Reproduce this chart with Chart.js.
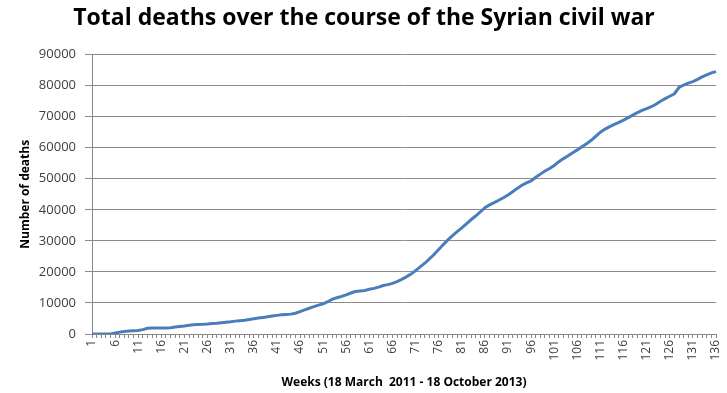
<!DOCTYPE html>
<html>
<head>
<meta charset="utf-8">
<script src="https://cdn.jsdelivr.net/npm/chart.js@4/dist/chart.umd.min.js"></script>
<style>
  html, body { margin: 0; padding: 0; background: #fff; }
  #wrap { width: 727px; height: 393px; }
</style>
</head>
<body>
<div id="wrap"><canvas id="graphCanvas" width="727" height="393"></canvas></div>
<script>
// weekly cumulative death toll, week 1 = 18 March 2011
var weeks = [];
for (var w = 1; w <= 136; w++) weeks.push(String(w));

var deaths = [
    0, 0, 0, 0, 0, 300, 600, 800, 1000, 1050,
    1100, 1400, 1850, 1900, 1900, 1950, 1950, 2000, 2250, 2400,
    2550, 2800, 2950, 3100, 3150, 3250, 3400, 3500, 3650, 3800,
    3950, 4150, 4300, 4450, 4700, 4900, 5150, 5350, 5550, 5800,
    6000, 6200, 6300, 6400, 6700, 7200, 7800, 8300, 8800, 9300,
    9700, 10400, 11200, 11700, 12100, 12600, 13200, 13700, 13850, 14000,
    14400, 14700, 15100, 15600, 15900, 16300, 16900, 17600, 18400, 19300,
    20400, 21600, 22800, 24200, 25600, 27200, 28800, 30300, 31700, 33000,
    34200, 35500, 36800, 38000, 39300, 40700, 41600, 42300, 43100, 43900,
    44800, 45800, 46900, 47900, 48700, 49300, 50500, 51500, 52500, 53300,
    54300, 55500, 56500, 57400, 58400, 59300, 60300, 61300, 62400, 63700,
    65000, 66000, 66800, 67500, 68200, 68900, 69700, 70500, 71300, 72000,
    72600, 73200, 74000, 75000, 75800, 76600, 77400, 79400, 80200, 80800,
    81300, 82000, 82800, 83500, 84100, 84500
];

var yTicks = [0, 10000, 20000, 30000, 40000, 50000, 60000, 70000, 80000, 90000];

var font = "'Open Sans', 'Liberation Sans', sans-serif";

var chartdata = {
    labels: weeks,
    datasets: [
        {
            label: 'Deaths',
            borderColor: '#4a7ebb',
            backgroundColor: '#4a7ebb',
            borderWidth: 3,
            pointRadius: 0,
            tension: 0,
            data: deaths
        }
    ]
};

var graphTarget = document.getElementById('graphCanvas');

var lineGraph = new Chart(graphTarget, {
    type: 'line',
    data: chartdata,
    options: {
        responsive: false,
        animation: false,
        layout: { padding: { left: 12, right: 11, top: 0, bottom: 0 } },
        plugins: {
            legend: { display: false },
            tooltip: { enabled: false },
            title: {
                display: true,
                text: 'Total deaths over the course of the Syrian civil war',
                color: '#000',
                font: { family: font, size: 23, weight: 'bold' },
                padding: { top: 5, bottom: 22 }
            }
        },
        scales: {
            x: {
                offset: false,
                grid: {
                    drawOnChartArea: false,
                    drawTicks: true,
                    tickLength: 4,
                    color: '#868686'
                },
                border: { color: '#868686' },
                ticks: {
                    autoSkip: false,
                    minRotation: 90,
                    maxRotation: 90,
                    padding: 2,
                    color: '#404040',
                    font: { family: font, size: 12 },
                    callback: function (val, i) {
                        return (i % 5 === 0) ? this.getLabelForValue(val) : '';
                    }
                },
                title: {
                    display: true,
                    text: 'Weeks (18 March  2011 - 18 October 2013)',
                    color: '#000',
                    font: { family: font, size: 12, weight: 'bold' },
                    padding: { top: 0, bottom: 3 }
                },
                afterFit: function (scale) {
                    scale.height = 59;
                    scale.paddingRight = 0;
                    scale.paddingLeft = 0;
                }
            },
            y: {
                min: 0,
                max: 90000,
                afterBuildTicks: function (scale) {
                    scale.ticks = yTicks.map(function (v) { return { value: v }; });
                },
                grid: {
                    color: '#8c8c8c',
                    tickLength: 7
                },
                border: { color: '#868686' },
                ticks: {
                    padding: 9,
                    color: '#404040',
                    font: { family: font, size: 13 },
                    callback: function (v) { return String(v); }
                },
                title: {
                    display: true,
                    text: 'Number of deaths',
                    color: '#000',
                    font: { family: font, size: 12, weight: 'bold' },
                    padding: { top: 6, bottom: 0 }
                },
                afterFit: function (scale) {
                    scale.width = 80;
                    scale.paddingTop = 0;
                    scale.paddingBottom = 0;
                }
            }
        }
    }
});
</script>
</body>
</html>
